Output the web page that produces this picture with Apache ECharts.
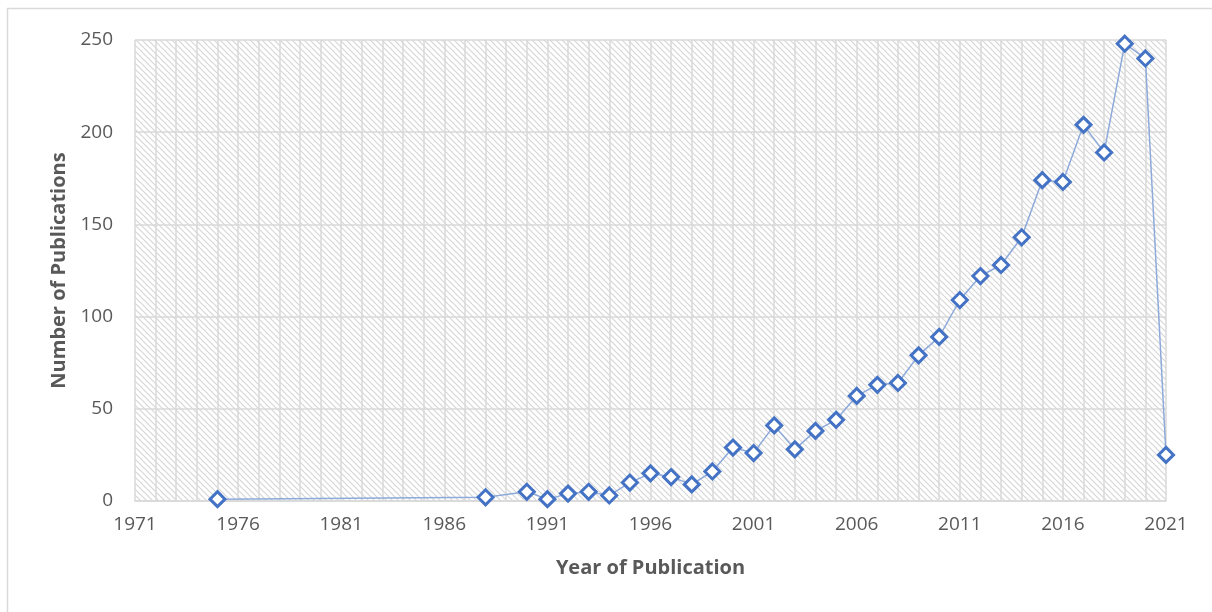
<!DOCTYPE html>
<html>
<head>
<meta charset="utf-8">
<script src="https://cdn.jsdelivr.net/npm/echarts@6/dist/echarts.min.js"></script>
<style>
  html, body { margin: 0; padding: 0; background: #fff; }
  #chart { width: 1212px; height: 612px; }
</style>
</head>
<body>
<div id="chart"></div>
<script>
// publications per year
const years = [1975, 1988, 1990, 1991, 1992, 1993, 1994, 1995, 1996, 1997, 1998, 1999,
  2000, 2001, 2002, 2003, 2004, 2005, 2006, 2007, 2008, 2009, 2010, 2011, 2012,
  2013, 2014, 2015, 2016, 2017, 2018, 2019, 2020, 2021];
const counts = [1, 2, 5, 1, 4, 5, 3, 10, 15, 13, 9, 16,
  29, 26, 41, 28, 38, 44, 57, 63, 64, 79, 89, 109, 122,
  128, 143, 174, 173, 204, 189, 248, 240, 25];
const xStart = 1971;   // first tick label
const xEnd = 2021;
const yMax = 250;

// axis ticks start at 1971, so offset years to keep min a multiple of the interval
const seriesData = years.map((y, i) => [y - xStart, counts[i]]);

// hatched plot background
function hatch() {
  const c = document.createElement('canvas');
  c.width = 6; c.height = 6;
  const g = c.getContext('2d');
  g.strokeStyle = '#d6d6d6';
  g.lineWidth = 1.2;
  g.beginPath();
  g.moveTo(-1, -1); g.lineTo(7, 7);
  g.moveTo(-4, 2); g.lineTo(2, 8);
  g.moveTo(2, -4); g.lineTo(8, 2);
  g.stroke();
  return c;
}

const font = '"Open Sans", sans-serif';
const gridColor = '#d9d9d9';

const chart = echarts.init(document.getElementById('chart'));
chart.setOption({
  animation: false,
  backgroundColor: '#fff',
  graphic: [{
    type: 'rect',
    shape: { x: 7.5, y: 8.5, width: 1300, height: 700 },
    style: { fill: 'none', stroke: '#d9d9d9', lineWidth: 1.5 },
    silent: true
  }],
  grid: {
    left: 135, right: 46, top: 40, bottom: 111,
    show: true,
    borderWidth: 0,
    backgroundColor: { image: hatch(), repeat: 'repeat' }
  },
  xAxis: {
    type: 'value',
    min: 0,
    max: xEnd - xStart,
    interval: 5,
    name: 'Year of Publication',
    nameLocation: 'middle',
    nameGap: 57,
    nameTextStyle: { fontFamily: font, fontSize: 20, fontWeight: 'bold', color: '#595959' },
    axisLine: { show: true, lineStyle: { color: gridColor, width: 1.5 } },
    axisTick: { show: false },
    axisLabel: {
      formatter: v => String(v + xStart),
      fontFamily: font, fontSize: 19, color: '#595959', margin: 14
    },
    splitLine: { show: true, lineStyle: { color: gridColor, width: 1.5 } },
    minorTick: { show: false, splitNumber: 5 },
    minorSplitLine: { show: true, lineStyle: { color: gridColor, width: 1.5 } }
  },
  yAxis: {
    type: 'value',
    min: 0,
    max: yMax,
    interval: 50,
    name: 'Number of Publications',
    nameLocation: 'middle',
    nameGap: 66,
    nameTextStyle: { fontFamily: font, fontSize: 20, fontWeight: 'bold', color: '#595959' },
    axisLine: { show: false },
    axisTick: { show: false },
    axisLabel: { fontFamily: font, fontSize: 19, color: '#595959', margin: 22 },
    splitLine: { show: true, lineStyle: { color: gridColor, width: 1.5 } }
  },
  series: [{
    type: 'line',
    data: seriesData,
    symbol: 'diamond',
    symbolSize: 15,
    showAllSymbol: true,
    lineStyle: { color: '#8eaadb', width: 1.5 },
    itemStyle: { color: '#ffffff', borderColor: '#4472c4', borderWidth: 3 }
  }]
});
</script>
</body>
</html>
